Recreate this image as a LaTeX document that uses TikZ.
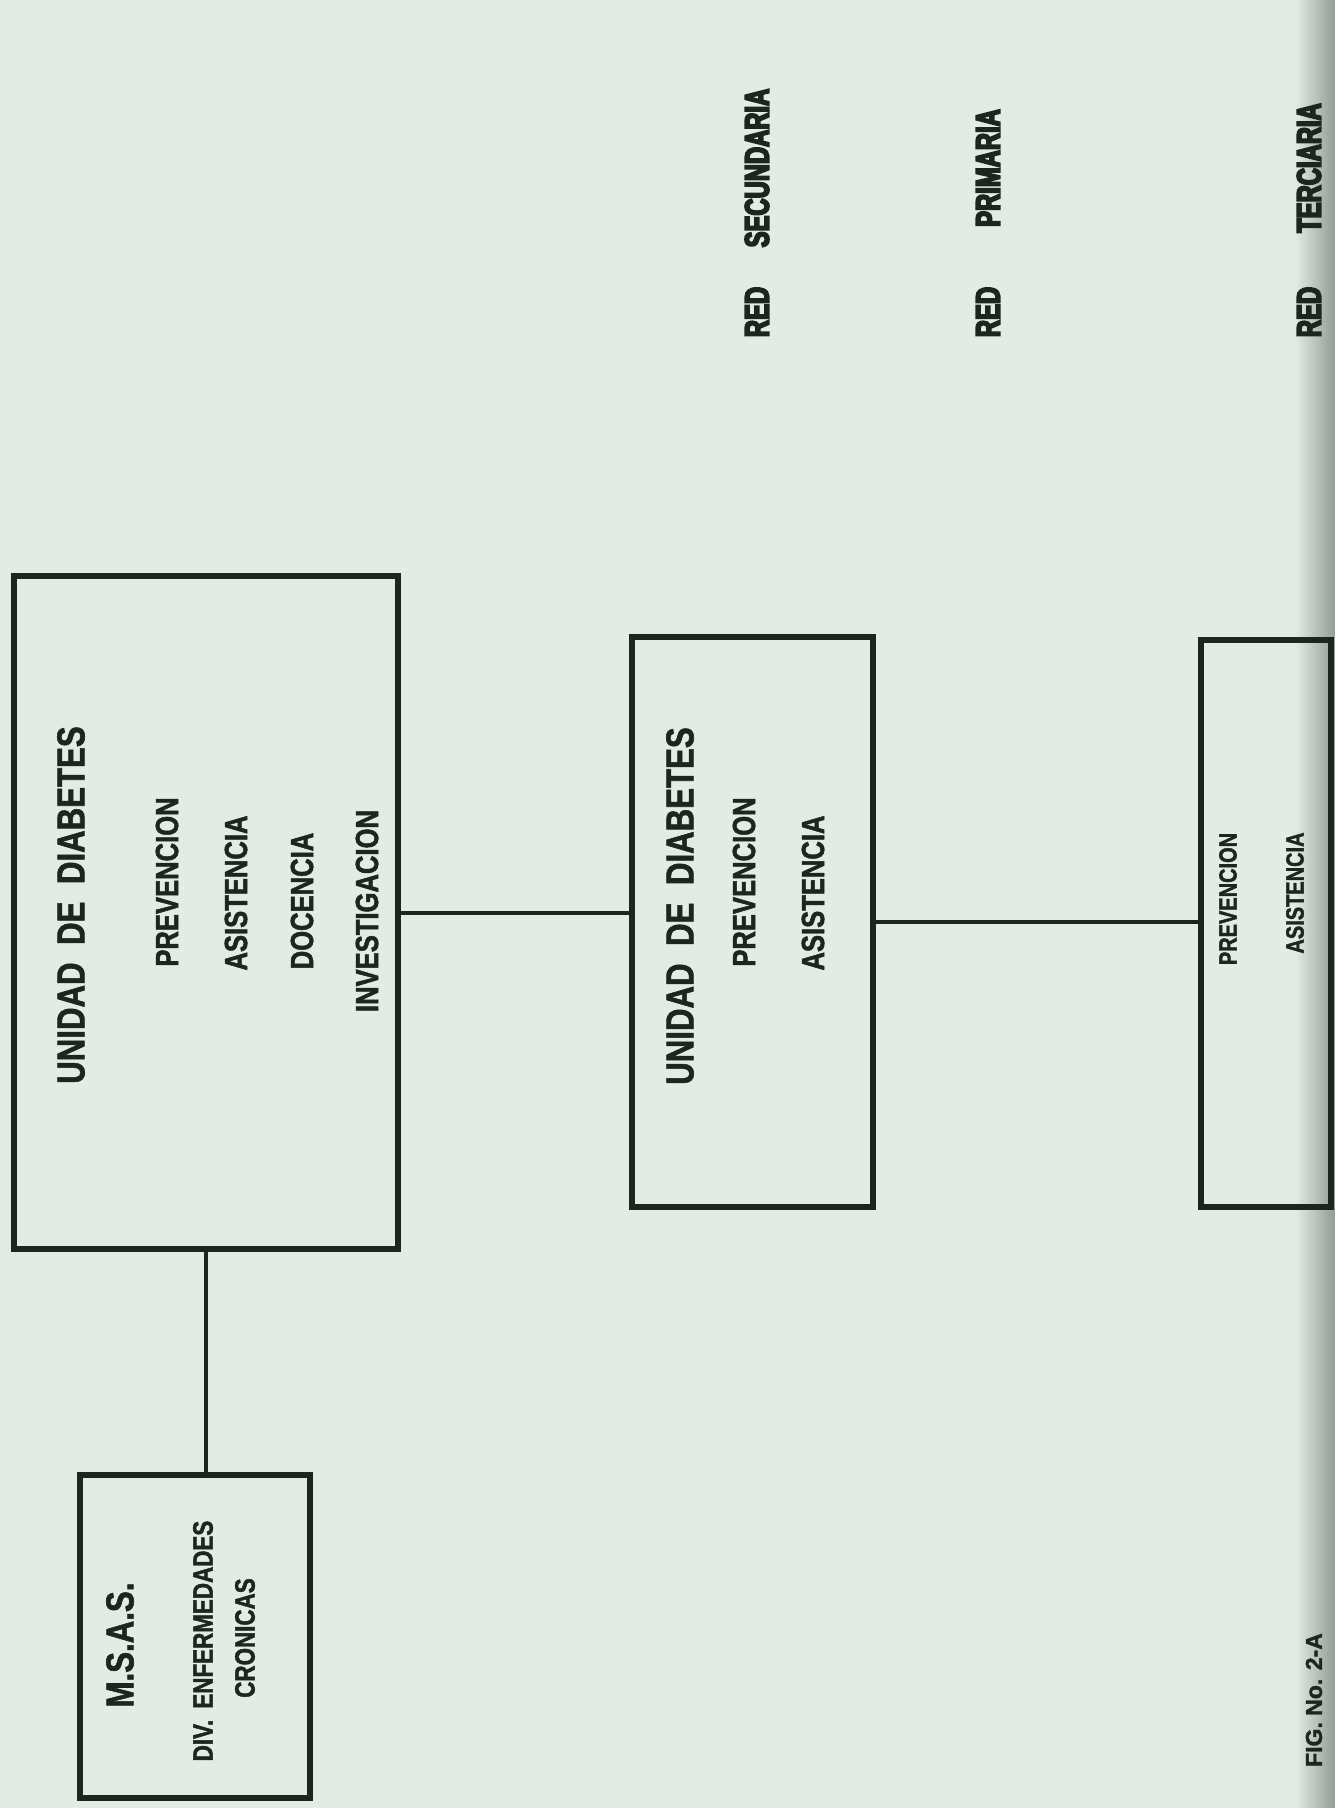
\documentclass[tikz,border=0pt]{standalone}
\usepackage{fontspec}
\usetikzlibrary{positioning}
\usetikzlibrary{backgrounds}
\newfontfamily\condsans[FakeStretch=0.8,FakeBold=1.5]{Liberation Sans}
\newfontfamily\heavysans[FakeStretch=0.7,FakeBold=5]{Liberation Sans}
\newfontfamily\figsans[FakeBold=1.5]{Liberation Sans}
\definecolor{paper}{RGB}{228,234,230}
\definecolor{ink}{RGB}{28,38,32}

\begin{document}
\begin{tikzpicture}[x=1pt,y=-1pt,
        unit/.style={rectangle,draw=ink,line width=6pt,inner sep=0pt},
        link/.style={draw=ink,line width=4pt},
        line/.style={rotate=90,text=ink,inner sep=0pt,font=\condsans\bfseries\fontsize{32}{36}\selectfont},
        head/.style={line,font=\condsans\bfseries\fontsize{39}{44}\selectfont},
        small/.style={line,font=\condsans\bfseries\fontsize{28}{32}\selectfont},
        tiny/.style={line,font=\condsans\bfseries\fontsize{25}{28}\selectfont},
        level/.style={rotate=90,text=ink,inner sep=0pt,font=\heavysans\bfseries\fontsize{34}{38}\selectfont}]

        \useasboundingbox (0,0) rectangle (1335,1808);

        % the four units
        \node [unit,minimum width=384pt,minimum height=673pt] (prim) at (206,912.5) {};
        \node [unit,minimum width=241pt,minimum height=570pt] (sec)  at (752.5,922) {};
        \node [unit,minimum width=130pt,minimum height=567pt] (ter)  at (1266,923.5) {};
        \node [unit,minimum width=230pt,minimum height=323pt] (msas) at (195,1636) {};

        \node [head] (p1) at (71,905)  {UNIDAD\hspace{.45em}DE\hspace{.45em}DIABETES};
        \node [line] (p2) at (167,882) {PREVENCION};
        \node [line] (p3) at (236,893) {ASISTENCIA};
        \node [line] (p4) at (302,901) {DOCENCIA};
        \node [line] (p5) at (367,911) {INVESTIGACION};

        \node [head] (s1) at (680,906) {UNIDAD\hspace{.45em}DE\hspace{.45em}DIABETES};
        \node [line] (s2) at (744,882) {PREVENCION};
        \node [line] (s3) at (813,893) {ASISTENCIA};

        \node [tiny] (t1) at (1228,899) {PREVENCION};
        \node [tiny] (t2) at (1295,893) {ASISTENCIA};

        \node [head] (m1) at (120,1645) {M.S.A.S.};
        \node [small] (m2) at (203,1641) {DIV.\hspace{.4em}ENFERMEDADES};
        \node [small] (m3) at (245,1638) {CRONICAS};

        % levels of the network
        \node [level] (r1)  at (988,312)  {RED};
        \node [level] (r1b) at (988,168)  {PRIMARIA};
        \node [level] (r2)  at (757,312)  {RED};
        \node [level] (r2b) at (757,168)  {SECUNDARIA};
        \node [level] (r3)  at (1309,312) {RED};
        \node [level] (r3b) at (1309,168) {TERCIARIA};

        \node [rotate=90,text=ink,inner sep=0pt,font=\figsans\bfseries\fontsize{23}{26}\selectfont]
              (fig) at (1314,1700) {FIG. No. 2-A};

        \path
          (prim.south) edge[link] (prim.south |- msas.north)
          (prim.east)  edge[link] (sec.west |- prim.east)
          (sec.east)   edge[link] (ter.west |- sec.east)
        ;

        \begin{pgfonlayer}{background}
          \fill [paper] (0,0) rectangle (1335,1808);
          \shade [left color=paper,right color=ink!40!paper] (1295,0) rectangle (1335,1808);
        \end{pgfonlayer}
      \end{tikzpicture}
\end{document}
